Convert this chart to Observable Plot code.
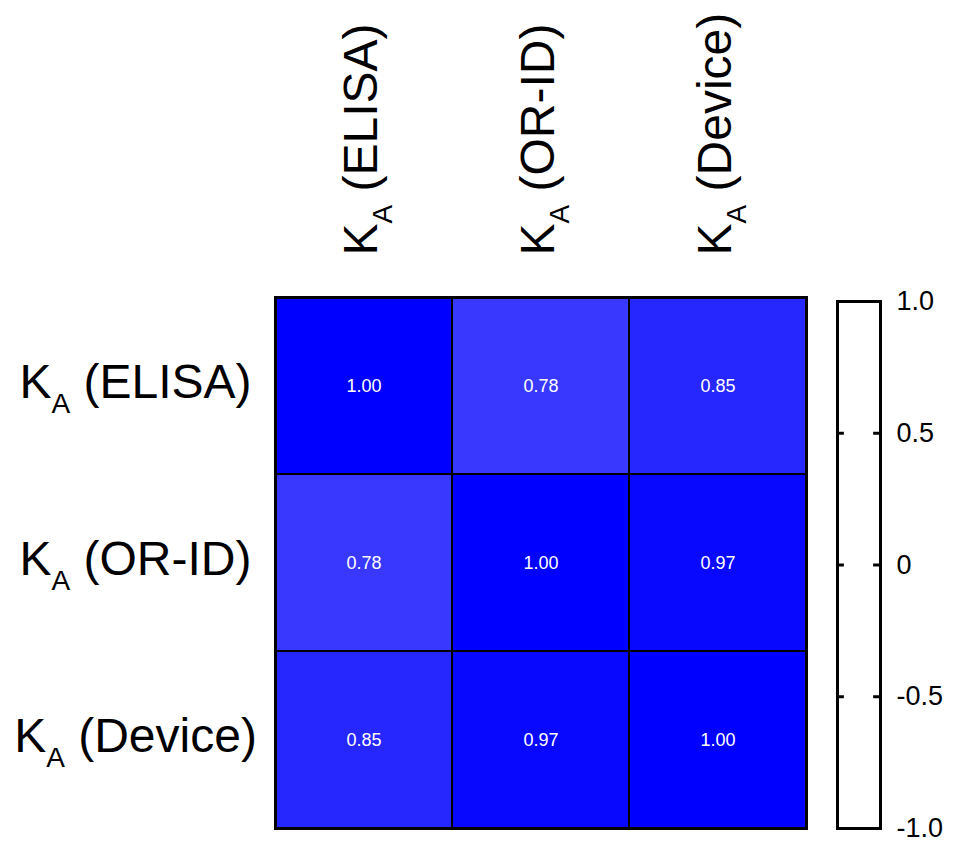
<!DOCTYPE html>
<html>
<head>
<meta charset="utf-8">
<script src="https://cdn.jsdelivr.net/npm/d3@7"></script>
<script src="https://cdn.jsdelivr.net/npm/@observablehq/plot@0.6"></script>
<style>
  body { margin: 0; background: #fff; }
  #chart { position: relative; width: 953px; height: 844px; font-family: "Liberation Sans", Arial, sans-serif; }
  #chart svg { position: absolute; top: 0; overflow: visible; }
</style>
</head>
<body>
<div id="chart"></div>
<script>
// ---- data ----
const labels = ["K_A (ELISA)", "K_A (OR-ID)", "K_A (Device)"];
const rowValues = [
  [1.00, 0.78, 0.85],
  [0.78, 1.00, 0.97],
  [0.85, 0.97, 1.00]
];
const colorbarTicks = [1.0, 0.5, 0, -0.5, -1.0];
const colorbarTickLabels = ["1.0", "0.5", "0", "-0.5", "-1.0"];
const colorbarInnerTicks = [0.5, 0, -0.5];

const cells = [];
labels.forEach((r, i) => labels.forEach((c, j) => cells.push({row: r, col: c, value: rowValues[i][j]})));

const font = '"Liberation Sans", Arial, sans-serif';

const heat = Plot.plot({
  width: 830,
  height: 844,
  marginLeft: 275,
  marginRight: 24,
  marginTop: 297,
  marginBottom: 16,
  style: {fontFamily: font, background: "transparent"},
  x: {domain: labels, padding: 0, axis: null},
  y: {domain: labels, padding: 0, axis: null},
  color: {type: "linear", domain: [0, 1], range: ["white", "blue"], interpolate: "rgb"},
  marks: [
    Plot.cell(cells, {x: "col", y: "row", fill: "value", stroke: "black", strokeWidth: 2, inset: 0}),
    Plot.text(cells, {x: "col", y: "row", text: d => d.value.toFixed(2), fill: "white", fontSize: 18}),
    Plot.frame({stroke: "black", strokeWidth: 3}),
    Plot.text(labels, {y: d => d, frameAnchor: "left", dx: -140, dy: -3, textAnchor: "middle", fontSize: 48, fill: "black"}),
    Plot.text(labels, {x: d => d, frameAnchor: "top", dx: -21, dy: -42, rotate: -90, textAnchor: "start", fontSize: 48, fill: "black"})
  ]
});
heat.style.left = "0px";

const bar = Plot.plot({
  width: 153,
  height: 844,
  marginLeft: 37,
  marginRight: 73,
  marginTop: 301,
  marginBottom: 16,
  style: {fontFamily: font, background: "transparent"},
  x: {domain: [0, 1], axis: null},
  y: {domain: [-1, 1]},
  marks: [
    Plot.frame({fill: "white", stroke: "black", strokeWidth: 3}),
    Plot.ruleY(colorbarInnerTicks, {x1: 0, x2: 0.16, stroke: "black", strokeWidth: 3}),
    Plot.ruleY(colorbarInnerTicks, {x1: 0.84, x2: 1, stroke: "black", strokeWidth: 3}),
    Plot.axisY(colorbarTicks, {anchor: "right", tickSize: 0, tickPadding: 16, fontSize: 27, label: null,
      tickFormat: d => colorbarTickLabels[colorbarTicks.indexOf(d)], textAnchor: "start"})
  ]
});
bar.style.left = "800px";

const chart = document.getElementById("chart");
chart.appendChild(heat);
chart.appendChild(bar);

// subscript A in the K_A labels
d3.select(heat).selectAll("text")
  .filter(function() { return this.textContent.startsWith("K_A"); })
  .each(function() {
    const rest = this.textContent.slice(3);
    const el = d3.select(this);
    el.text(null);
    el.append("tspan").text("K");
    el.append("tspan").attr("font-size", 28).attr("dy", 15).text("A");
    el.append("tspan").attr("dy", -15).text(rest);
  });
</script>
</body>
</html>
